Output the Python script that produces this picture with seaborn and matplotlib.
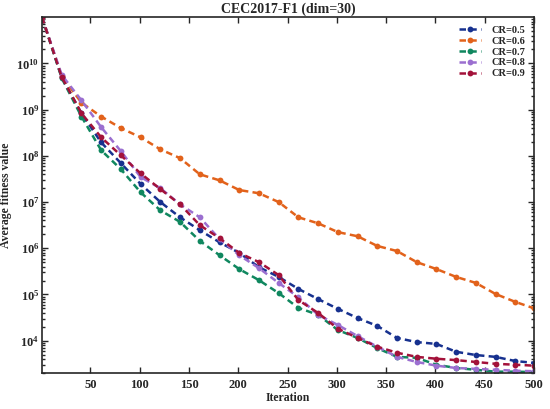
import matplotlib
matplotlib.use("Agg")
import matplotlib.pyplot as plt
import matplotlib.ticker as mticker
import numpy as np
import pandas as pd
import seaborn as sns

# iterations where values were read (every 20, plus the last one)
iterations = [1, 21, 41, 61, 81, 101, 121, 141, 161, 181, 201, 221, 241,
              261, 281, 301, 321, 341, 361, 381, 401, 421, 441, 461, 481, 500]

# log10 of average fitness value
cr05 = [11.0, 9.70, 8.92, 8.29, 7.84, 7.39, 7.00, 6.67, 6.39, 6.13, 5.90, 5.59, 5.38,
        5.12, 4.90, 4.69, 4.49, 4.32, 4.06, 3.97, 3.93, 3.76, 3.69, 3.65, 3.56, 3.52]
cr06 = [11.0, 9.72, 9.15, 8.85, 8.60, 8.40, 8.14, 7.95, 7.60, 7.47, 7.26, 7.19, 7.00,
        6.67, 6.54, 6.35, 6.26, 6.05, 5.94, 5.70, 5.55, 5.38, 5.25, 5.01, 4.84, 4.70]
cr07 = [11.0, 9.68, 8.85, 8.12, 7.71, 7.21, 6.82, 6.57, 6.16, 5.85, 5.55, 5.31, 5.03,
        4.71, 4.56, 4.23, 4.06, 3.84, 3.65, 3.63, 3.48, 3.41, 3.37, 3.33, 3.33, 3.32]
cr08 = [11.0, 9.75, 9.20, 8.62, 8.10, 7.54, 7.30, 6.95, 6.67, 6.20, 5.85, 5.57, 5.25,
        4.94, 4.56, 4.34, 4.10, 3.87, 3.65, 3.54, 3.46, 3.41, 3.39, 3.37, 3.35, 3.34]
cr09 = [11.0, 9.70, 8.92, 8.40, 8.01, 7.62, 7.28, 6.95, 6.50, 6.22, 5.90, 5.70, 5.42,
        4.88, 4.60, 4.26, 4.06, 3.87, 3.74, 3.65, 3.61, 3.58, 3.54, 3.50, 3.48, 3.46]

labels = ["CR=0.5", "CR=0.6", "CR=0.7", "CR=0.8", "CR=0.9"]
colors = ["#17318f", "#e2621b", "#10875f", "#9b6fd0", "#a3123a"]

sns.set_style("ticks")
plt.rcParams["font.family"] = ["Liberation Serif", "DejaVu Serif"]
plt.rcParams["font.weight"] = "bold"
plt.rcParams["mathtext.fontset"] = "custom"
plt.rcParams["mathtext.rm"] = "Liberation Serif:bold"
plt.rcParams["mathtext.it"] = "Liberation Serif:bold"
plt.rcParams["mathtext.bf"] = "Liberation Serif:bold"

fig = plt.figure(figsize=(5.5, 4.09), dpi=100)
ax = fig.add_axes([0.0764, 0.088, 0.8946, 0.870])

for lab, col, vals in zip(labels, colors, [cr05, cr06, cr07, cr08, cr09]):
    df = pd.DataFrame({"Iteration": iterations, "value": np.power(10.0, vals)})
    sns.lineplot(data=df, x="Iteration", y="value", ax=ax, color=col, label=lab,
                 linestyle=(0, (2.6, 1.7)), marker="o", markersize=4.2,
                 markeredgewidth=0, linewidth=1.8)

ax.set_yscale("log")
ax.set_xlim(1, 500)
ax.set_ylim(2000, 1e11)
ax.set_xticks([50, 100, 150, 200, 250, 300, 350, 400, 450, 500])
ax.set_yticks([1e4, 1e5, 1e6, 1e7, 1e8, 1e9, 1e10])
ax.yaxis.set_major_formatter(mticker.LogFormatterMathtext())
ax.yaxis.set_minor_locator(mticker.LogLocator(base=10, subs=np.arange(2, 10)))
ax.yaxis.set_minor_formatter(mticker.NullFormatter())

ax.tick_params(which="both", direction="in", top=True, right=True, width=1)
ax.tick_params(axis="x", labelsize=9, pad=4)
ax.tick_params(axis="y", labelsize=9, pad=2)
ax.tick_params(which="major", length=4)
ax.tick_params(which="minor", length=2)
for sp in ax.spines.values():
    sp.set_linewidth(1.2)
    sp.set_visible(True)

ax.set_xlabel("Iteration", fontsize=8.5, fontweight="bold", labelpad=1)
ax.set_ylabel("Average fitness value", fontsize=8.5, fontweight="bold")
ax.yaxis.set_label_coords(-0.062, 0.5)
ax.set_title("CEC2017-F1 (dim=30)", fontsize=10, fontweight="bold", pad=3)

leg = ax.legend(loc="upper right", frameon=False, fontsize=7.5, handlelength=2.2,
                labelspacing=0.15, borderaxespad=0.4, handletextpad=1.0)

fig.savefig("out.png", dpi=100)
